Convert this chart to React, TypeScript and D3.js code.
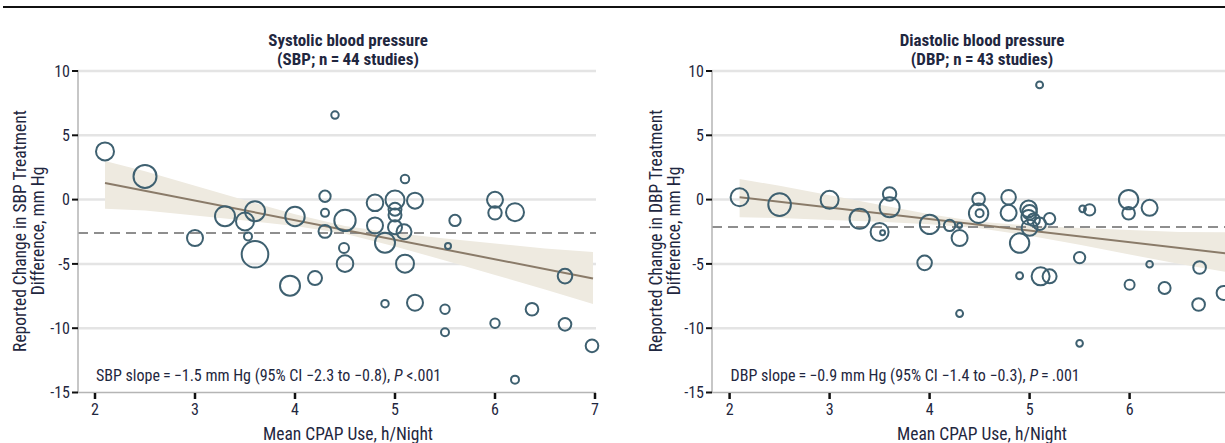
import React from "react";
import * as d3 from "d3";

// ---------- data ----------
const xTicks = [2, 3, 4, 5, 6, 7];
const yTicks = [10, 5, 0, -5, -10, -15];
const gridValues = [10, 5, 0, -5, -10];

// SBP panel
const sbpCpap = [2.1, 2.5, 3.0, 3.3, 3.5, 3.6, 3.53, 3.6, 4.0, 4.3, 4.3, 4.3, 4.4, 4.5, 4.49, 4.5, 4.8, 4.8, 4.9, 5.0, 5.0, 5.0, 5.0, 5.1, 5.2, 5.09, 5.1, 5.6, 5.53, 6.0, 6.0, 6.2, 6.7, 5.2, 5.5, 5.5, 6.0, 6.37, 6.7, 6.97, 6.2, 4.9, 4.2, 3.95];
const sbpChange = [3.75, 1.8, -2.99, -1.29, -1.7, -0.9, -2.86, -4.25, -1.31, 0.26, -1.03, -2.47, 6.57, -1.62, -3.76, -4.98, -0.25, -2.01, -3.35, -0.03, -0.75, -1.2, -2.15, 1.6, -0.08, -2.5, -4.98, -1.62, -3.61, -0.02, -1.03, -0.98, -5.95, -8.02, -8.53, -10.31, -9.62, -8.53, -9.7, -11.37, -14.0, -8.09, -6.1, -6.69];
const sbpWeight = [81, 132, 64, 100, 81, 100, 16, 177, 94, 32, 16, 42, 14, 114, 25, 69, 69, 64, 100, 90, 42, 42, 49, 18, 64, 56, 81, 32, 9, 64, 45, 81, 53, 64, 22, 16, 22, 40, 40, 40, 16, 14, 49, 100];

// DBP panel
const dbpCpap = [2.1, 2.5, 3.0, 3.3, 3.5, 3.53, 3.6, 3.6, 4.0, 4.2, 4.3, 4.3, 3.95, 4.49, 4.49, 4.5, 4.79, 4.79, 4.99, 5.0, 4.99, 5.0, 4.9, 5.1, 5.2, 5.04, 5.53, 5.6, 5.99, 5.99, 6.2, 5.5, 6.2, 6.7, 4.9, 5.11, 5.2, 4.3, 5.5, 6.0, 6.35, 6.69, 6.94, 5.1];
const dbpChange = [0.18, -0.39, -0.02, -1.49, -2.52, -2.58, 0.44, -0.59, -1.93, -2.01, -2.01, -2.99, -4.92, 0.05, -1.06, -1.06, 0.18, -1.03, -0.72, -0.98, -1.37, -2.19, -3.38, -1.88, -1.49, -1.57, -0.72, -0.8, 0.0, -1.06, -0.64, -4.51, -5.03, -5.28, -5.92, -5.97, -5.97, -8.86, -11.18, -6.62, -6.87, -8.16, -7.26, 8.92];
const dbpWeight = [81, 128, 81, 100, 81, 6, 45, 100, 94, 32, 6, 64, 53, 40, 94, 16, 53, 64, 69, 53, 53, 64, 94, 40, 32, 40, 11, 32, 94, 40, 64, 32, 11, 40, 12, 81, 49, 12, 11, 25, 36, 40, 49, 12];

// meta-regression fits and confidence bands
const fitX = [2.1, 6.98];
const sbpFit = [1.29, -6.13];
const dbpFit = [0.18, -4.19];
const bandX = [2.1, 2.5, 3.0, 3.5, 4.0, 4.5, 5.0, 5.5, 6.0, 6.5, 6.98];
const sbpBandUpper = [3.0, 2.2, 1.07, -0.05, -1.14, -2.06, -2.6, -3.02, -3.41, -3.8, -4.07];
const sbpBandLower = [-0.72, -0.84, -1.23, -1.62, -2.05, -2.66, -3.64, -4.74, -5.86, -6.99, -8.12];
const dbpBandUpper = [1.6, 1.07, 0.33, -0.41, -1.13, -1.72, -2.02, -2.2, -2.36, -2.51, -2.55];
const dbpBandLower = [-1.37, -1.43, -1.58, -1.73, -1.92, -2.22, -2.81, -3.52, -4.26, -5.01, -5.65];

const sbpMean = -2.6;
const dbpMean = -2.14;

// ---------- styles ----------
const FONT = "'Liberation Sans Narrow', 'Roboto Condensed', 'Arial Narrow', sans-serif";
const TEXT = "#1f2740";
const CIRCLE = "#3e6070";
const WIDTH = 1225;

type PanelProps = {
  x0: number; // pixel position of x = 2
  axisX: number;
  abbr: string;
  title: string;
  n: number;
  cpap: number[];
  change: number[];
  weight: number[];
  fit: number[];
  bandU: number[];
  bandL: number[];
  mean: number;
  slopeText: string;
  pText: string;
  labelX1: number;
  titleCx: number;
};

function Panel(p: PanelProps) {
  const x = d3.scaleLinear().domain([2, 7]).range([p.x0, p.x0 + 500]);
  const y = d3.scaleLinear().domain([-15, 10]).range([392.5, 71]);
  const r = d3.scaleSqrt().domain([0, 400]).range([0, 20]);
  const right = p.x0 + 501;

  const area = d3
    .area<number>()
    .x((_, i) => x(bandX[i]))
    .y0((_, i) => y(p.bandL[i]))
    .y1((_, i) => y(p.bandU[i]));
  const line = d3
    .line<number>()
    .x((_, i) => x(fitX[i]))
    .y((d) => y(d));

  const labelCy = 231;
  return (
    <g fontFamily={FONT}>
      {/* gridlines */}
      {gridValues.map((v) => (
        <line key={"g" + v} x1={p.axisX} x2={right} y1={y(v)} y2={y(v)} stroke="#e4e4e4" strokeWidth={2.5} />
      ))}
      {/* band */}
      <path d={area(bandX) || ""} fill="#eeeae0" />
      {/* mean dashed */}
      <line x1={p.axisX} x2={right} y1={y(p.mean)} y2={y(p.mean)} stroke="#8e8e8e" strokeWidth={2} strokeDasharray="10,6" />
      {/* fit line */}
      <path d={line(p.fit) || ""} fill="none" stroke="#8a7b69" strokeWidth={2} />
      {/* points */}
      {p.cpap.map((c, i) => (
        <circle key={"c" + i} cx={x(c)} cy={y(p.change[i])} r={r(p.weight[i])} fill="none" stroke={CIRCLE} strokeWidth={2} />
      ))}
      {/* axes */}
      <line x1={p.axisX} x2={p.axisX} y1={70} y2={393} stroke="#b5b5b5" strokeWidth={1.5} />
      <line x1={p.axisX} x2={right} y1={392.5} y2={392.5} stroke="#b5b5b5" strokeWidth={1.5} />
      {yTicks.map((v) => (
        <g key={"yt" + v}>
          <line x1={p.axisX - 6} x2={p.axisX} y1={y(v)} y2={y(v)} stroke="#111" strokeWidth={2} />
          <text x={p.axisX - 8} y={y(v)} dy="0.36em" textAnchor="end" fontSize={16} fill={TEXT}>
            {v < 0 ? "-" + Math.abs(v) : String(v)}
          </text>
        </g>
      ))}
      {xTicks.map((v) => (
        <g key={"xt" + v}>
          <line x1={x(v)} x2={x(v)} y1={393} y2={399} stroke="#111" strokeWidth={2.5} />
          {x(v) < WIDTH - 8 && (
            <text x={x(v)} y={415} textAnchor="middle" fontSize={16} fill={TEXT}>
              {v}
            </text>
          )}
        </g>
      ))}
      {/* titles */}
      <text x={p.titleCx} y={46} textAnchor="middle" fontSize={17} fontWeight="bold" fill={TEXT}>
        {p.title}
      </text>
      <text x={p.titleCx} y={65} textAnchor="middle" fontSize={17} fontWeight="bold" fill={TEXT}>
        {"(" + p.abbr + "; n\u2009=\u2009" + p.n + " studies)"}
      </text>
      {/* y label */}
      <text transform={`translate(${p.labelX1},${labelCy}) rotate(-90)`} textAnchor="middle" dy="0.35em" fontSize={17.5} fill={TEXT}>
        {"Reported Change in " + p.abbr + " Treatment"}
      </text>
      <text transform={`translate(${p.labelX1 + 18},${labelCy}) rotate(-90)`} textAnchor="middle" dy="0.35em" fontSize={17.5} fill={TEXT}>
        Difference, mm Hg
      </text>
      {/* x label */}
      <text x={p.titleCx} y={440} textAnchor="middle" fontSize={17.5} fill={TEXT}>
        Mean CPAP Use, h/Night
      </text>
      {/* slope text */}
      <text x={p.x0 + 1} y={381} fontSize={16} fill={TEXT}>
        {p.slopeText}
        <tspan fontStyle="italic">P</tspan>
        {p.pText}
      </text>
    </g>
  );
}

export default function App() {
  return (
    <svg width={WIDTH} height={443} style={{ position: "absolute", left: 0, top: 0, background: "#fff" }}>
      <rect x={0} y={0} width={WIDTH} height={443} fill="#fff" />
      <line x1={3} x2={WIDTH} y1={7} y2={7} stroke="#111" strokeWidth={2} />
      <Panel
        x0={95}
        axisX={78}
        abbr="SBP"
        title="Systolic blood pressure"
        n={44}
        cpap={sbpCpap}
        change={sbpChange}
        weight={sbpWeight}
        fit={sbpFit}
        bandU={sbpBandUpper}
        bandL={sbpBandLower}
        mean={sbpMean}
        slopeText={"SBP slope\u2009=\u2009\u22121.5 mm Hg (95% CI \u22122.3 to \u22120.8), "}
        pText={" <.001"}
        labelX1={20}
        titleCx={348}
      />
      <Panel
        x0={729.6}
        axisX={712}
        abbr="DBP"
        title="Diastolic blood pressure"
        n={43}
        cpap={dbpCpap}
        change={dbpChange}
        weight={dbpWeight}
        fit={dbpFit}
        bandU={dbpBandUpper}
        bandL={dbpBandLower}
        mean={dbpMean}
        slopeText={"DBP slope\u2009=\u2009\u22120.9 mm Hg (95% CI \u22121.4 to \u22120.3), "}
        pText={"\u2009=\u2009.001"}
        labelX1={656}
        titleCx={982}
      />
    </svg>
  );
}
